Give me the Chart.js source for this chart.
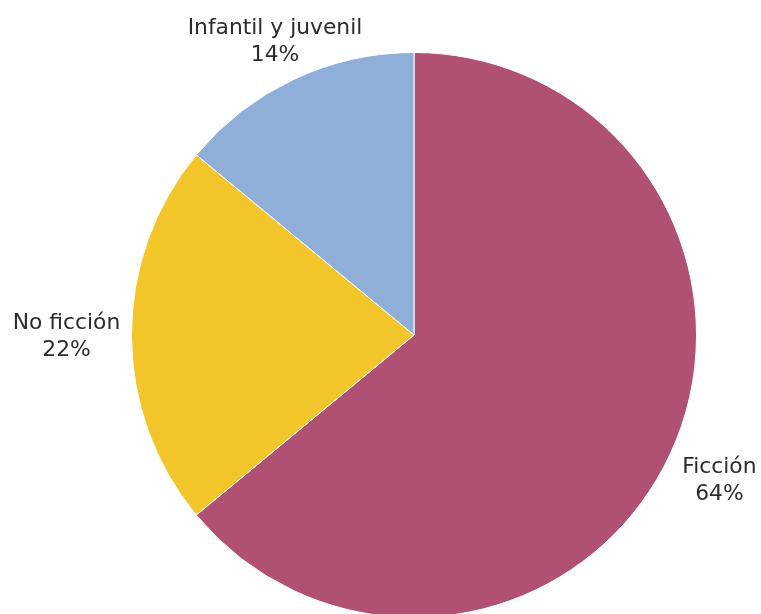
<!DOCTYPE html>
<html>
<head>
<meta charset="utf-8">
<script src="https://cdn.jsdelivr.net/npm/chart.js@4"></script>
<style>
  html, body { margin: 0; padding: 0; background: #fff; overflow: hidden; }
  #wrap { width: 761px; height: 620px; }
</style>
</head>
<body>
<div id="wrap"><canvas id="pie" width="761" height="620"></canvas></div>
<script>
/* Datos del grafico */
const categorias = ["Ficción", "No ficción", "Infantil y juvenil"];
const porcentajes = [64, 22, 14];
const colores = ["#B05173", "#F2C52B", "#8FAED8"];

/* Etiquetas fuera del pastel: nombre y porcentaje */
const etiquetasFuera = {
  id: "etiquetasFuera",
  afterDatasetsDraw(chart) {
    const ctx = chart.ctx;
    const arcs = chart.getDatasetMeta(0).data;
    const size = 21.8;
    const capH = size * 0.73;
    const lineH = 27;
    const boxH = 22;
    ctx.save();
    ctx.font = size + "px 'DejaVu Sans', sans-serif";
    ctx.fillStyle = "#2b2b2b";
    ctx.textAlign = "center";
    ctx.textBaseline = "alphabetic";
    arcs.forEach((arc, i) => {
      const p = arc.getProps(["x", "y", "startAngle", "endAngle", "outerRadius"], true);
      const mid = (p.startAngle + p.endAngle) / 2;
      const dx = Math.cos(mid), dy = Math.sin(mid);
      const lines = [categorias[i], porcentajes[i] + "%"];
      const anchos = lines.map(l => ctx.measureText(l).width);
      const offs = [-lineH / 2, lineH / 2];
      // distancia minima de cada linea al centro
      const dist = (cx, cy) => Math.min(...lines.map((l, j) => {
        const ly = cy + offs[j];
        const nx = Math.max(cx - anchos[j] / 2, Math.min(0, cx + anchos[j] / 2));
        const ny = Math.max(ly - boxH / 2, Math.min(0, ly + boxH / 2));
        return Math.hypot(nx, ny);
      }));
      // alejar el texto hasta que quede fuera del circulo
      let t = p.outerRadius;
      const pad = 11;
      for (let k = 0; k < 400; k++) {
        if (dist(dx * t, dy * t) >= p.outerRadius + pad) break;
        t += 1;
      }
      const bx = p.x + dx * t, by = p.y + dy * t;
      lines.forEach((l, j) => ctx.fillText(l, bx, by + offs[j] + capH / 2));
    });
    ctx.restore();
  }
};

const ctx_pie = document.getElementById("pie").getContext("2d");
const pie = new Chart(ctx_pie, {
  type: "pie",
  data: {
    labels: categorias,
    datasets: [
      {
        data: porcentajes,
        backgroundColor: colores,
        borderColor: "#ffffff",
        borderWidth: 1,
        hoverOffset: 0,
      },
    ],
  },
  options: {
    responsive: false,
    animation: false,
    layout: {
      padding: { left: 131, right: 64, top: 52, bottom: 2 },
    },
    plugins: {
      legend: { display: false },
      tooltip: { enabled: false },
    },
  },
  plugins: [etiquetasFuera],
});
</script>
</body>
</html>
